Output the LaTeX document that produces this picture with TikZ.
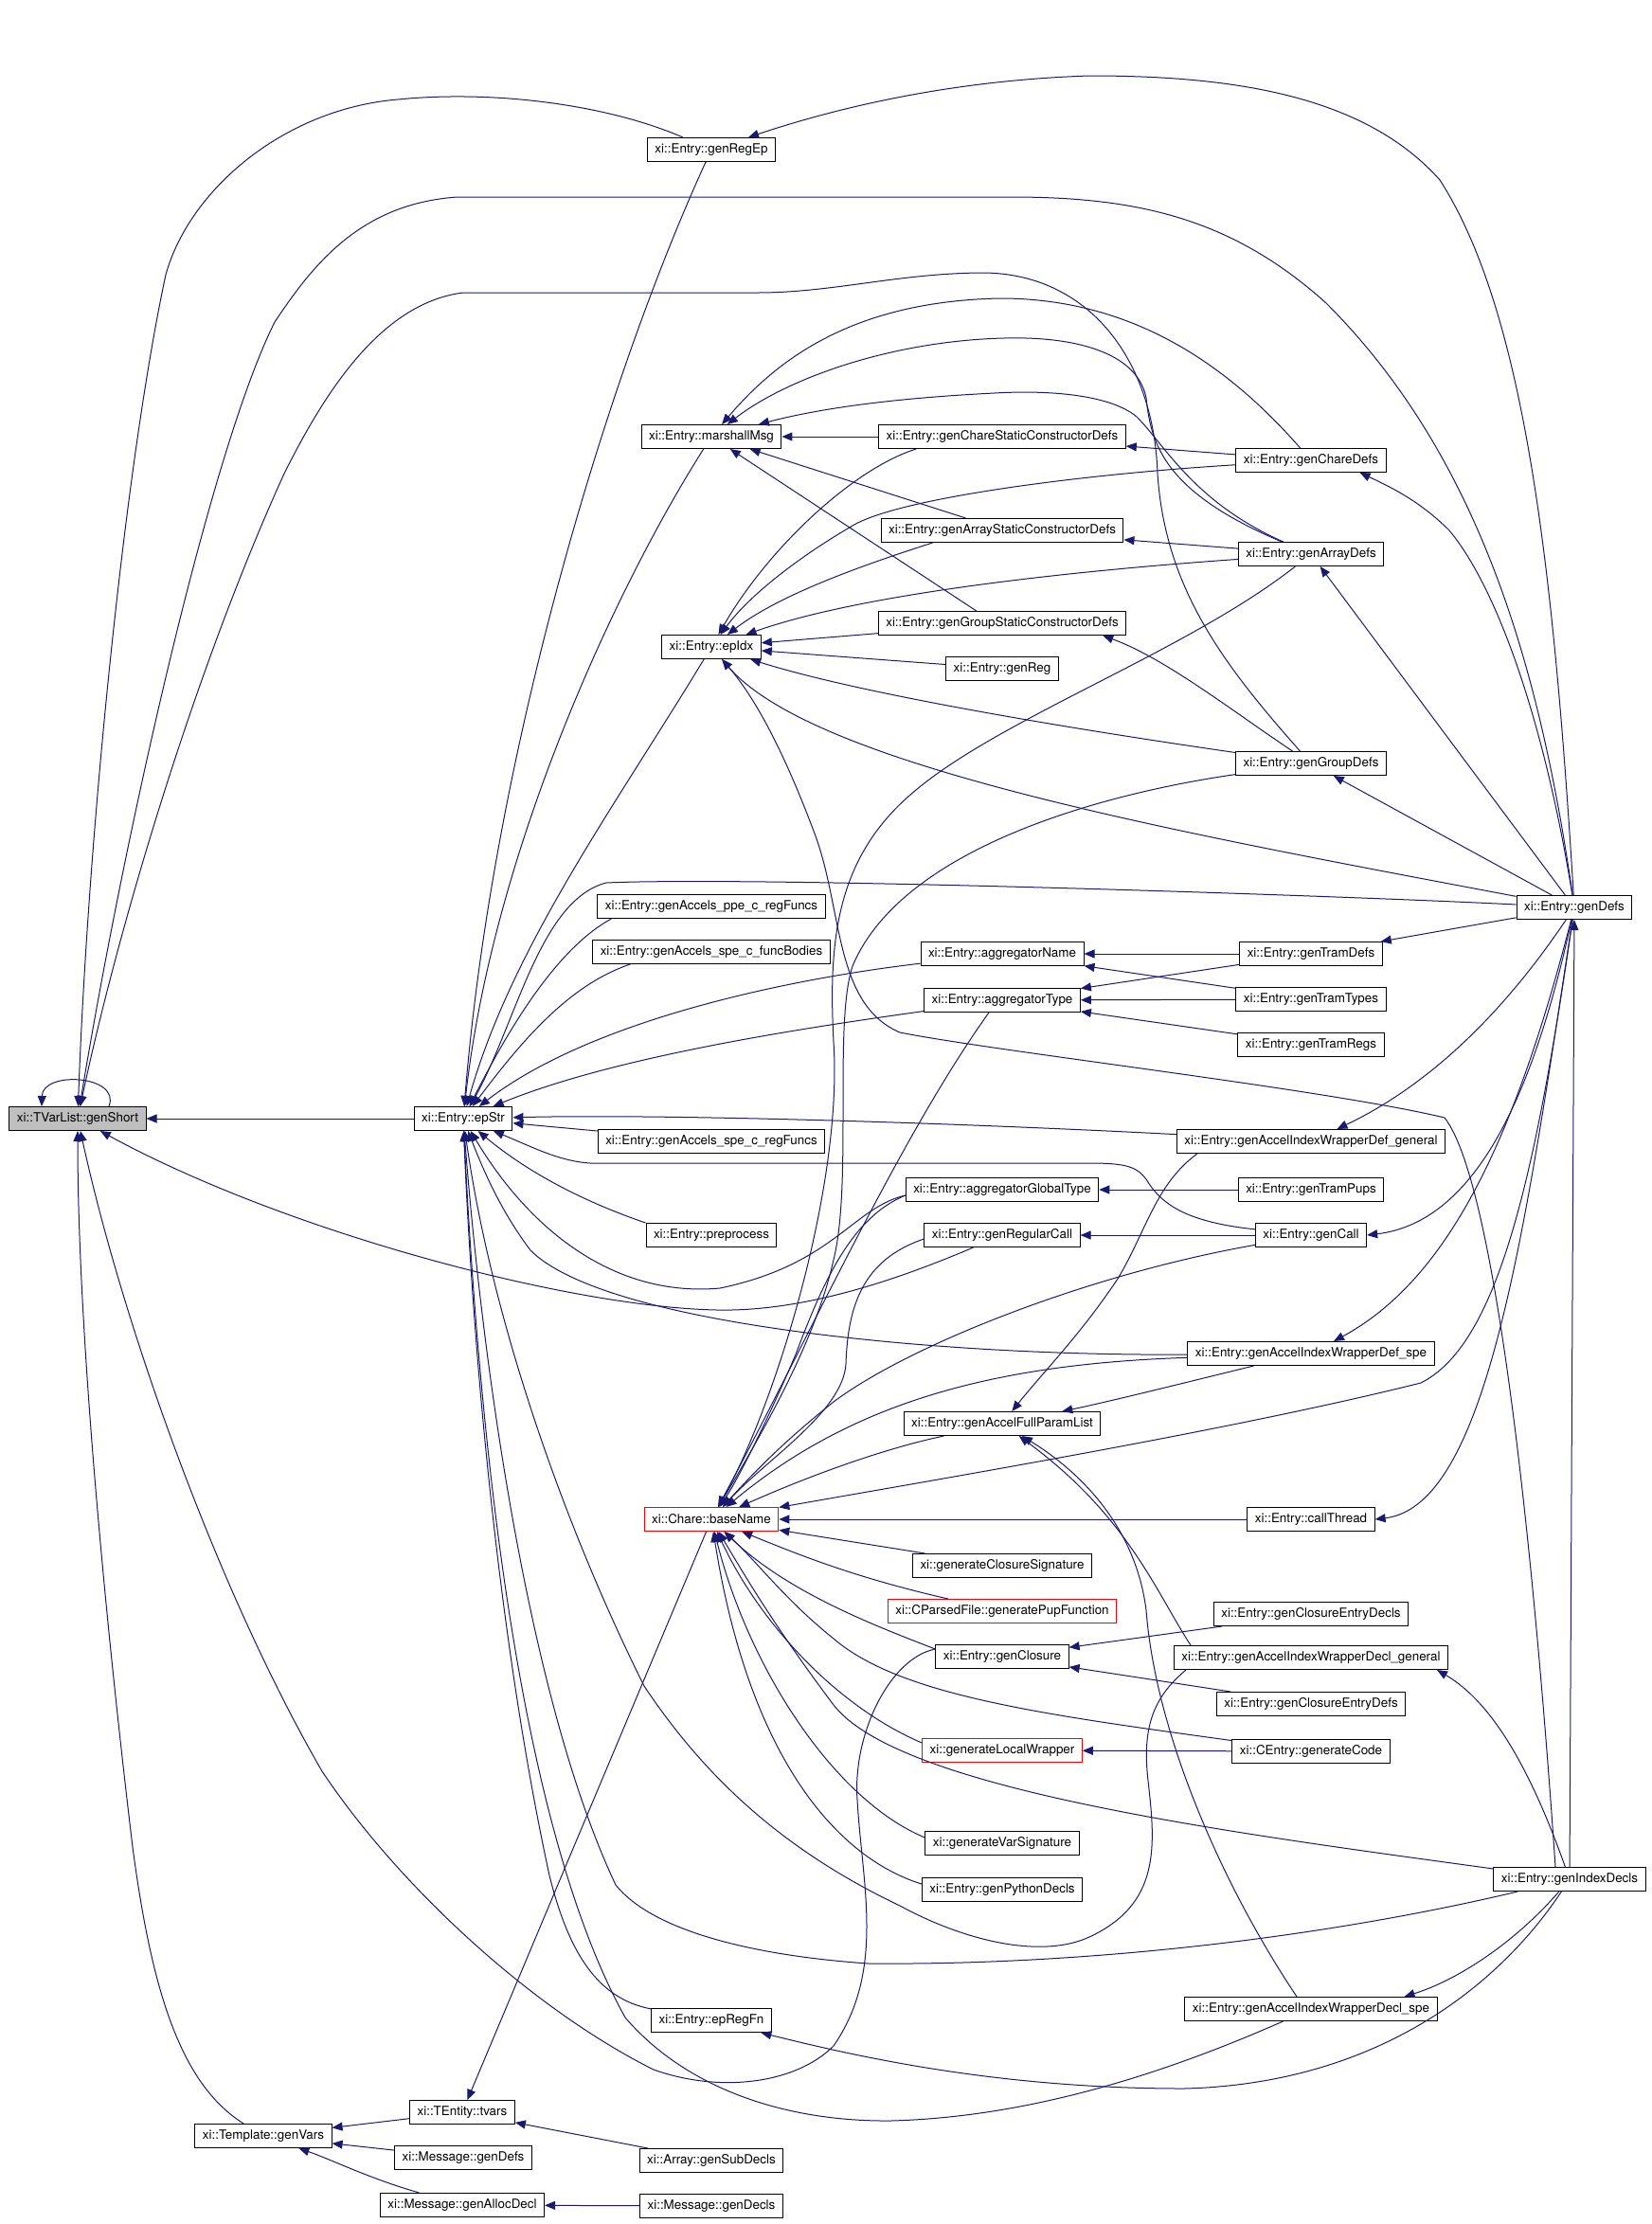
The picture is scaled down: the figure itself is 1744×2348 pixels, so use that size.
\documentclass[tikz,border=0pt]{standalone}
\usepackage{fontspec}
\setmainfont{TeX Gyre Heros}
\usetikzlibrary{arrows.meta, positioning}
\definecolor{edgeblue}{HTML}{191970}

\begin{document}
\begin{tikzpicture}[x=1pt, y=-1pt,
		fn/.style={draw=black, line width=1pt, rectangle, minimum height=25pt, inner xsep=8pt, inner ysep=0pt, font=\fontsize{13.4pt}{16pt}\selectfont},
		rootfn/.style={fn, fill=black!25},
		redfn/.style={fn, draw=red},
		>={Triangle[length=11pt, width=9pt]},
		callarrow/.style={->, color=edgeblue, line width=1pt}]
			\useasboundingbox (0,0) rectangle (1744,2348);

			\node[rootfn] (genShort) at (82,1181) {xi::TVarList::genShort};
			\node[fn] (epStr) at (489,1181) {xi::Entry::epStr};
			\node[fn] (genVars) at (278,2255) {xi::Template::genVars};
			\node[fn] (tvars) at (488,2230) {xi::TEntity::tvars};
			\node[fn] (msgGenDefs) at (489,2278) {xi::Message::genDefs};
			\node[fn] (genAllocDecl) at (488,2328) {xi::Message::genAllocDecl};

			\node[fn] (genRegEp) at (751,158) {xi::Entry::genRegEp};
			\node[fn] (marshallMsg) at (751,461) {xi::Entry::marshallMsg};
			\node[fn] (epIdx) at (751,683) {xi::Entry::epIdx};
			\node[fn] (ppeRegFuncs) at (751,957) {xi::Entry::genAccels\_ppe\_c\_regFuncs};
			\node[fn] (speFuncBodies) at (751,1005) {xi::Entry::genAccels\_spe\_c\_funcBodies};
			\node[fn] (speRegFuncs) at (751,1205) {xi::Entry::genAccels\_spe\_c\_regFuncs};
			\node[fn] (preprocess) at (751,1304) {xi::Entry::preprocess};
			\node[redfn] (baseName) at (751,1604) {xi::Chare::baseName};
			\node[fn] (epRegFn) at (751,2133) {xi::Entry::epRegFn};
			\node[fn] (genSubDecls) at (751,2281) {xi::Array::genSubDecls};
			\node[fn] (msgGenDecls) at (751,2329) {xi::Message::genDecls};

			\node[fn] (chareStatic) at (1058,461) {xi::Entry::genChareStaticConstructorDefs};
			\node[fn] (arrayStatic) at (1058,560) {xi::Entry::genArrayStaticConstructorDefs};
			\node[fn] (groupStatic) at (1058,658) {xi::Entry::genGroupStaticConstructorDefs};
			\node[fn] (genReg) at (1058,706) {xi::Entry::genReg};
			\node[fn] (aggregatorName) at (1058,1007) {xi::Entry::aggregatorName};
			\node[fn] (aggregatorType) at (1058,1056) {xi::Entry::aggregatorType};
			\node[fn] (aggregatorGlobalType) at (1058,1256) {xi::Entry::aggregatorGlobalType};
			\node[fn] (genRegularCall) at (1058,1304) {xi::Entry::genRegularCall};
			\node[fn] (fullParamList) at (1058,1503) {xi::Entry::genAccelFullParamList};
			\node[fn] (closureSignature) at (1058,1653) {xi::generateClosureSignature};
			\node[redfn] (pupFunction) at (1058,1701) {xi::CParsedFile::generatePupFunction};
			\node[fn] (genClosure) at (1058,1749) {xi::Entry::genClosure};
			\node[redfn] (localWrapper) at (1058,1848) {xi::generateLocalWrapper};
			\node[fn] (varSignature) at (1058,1946) {xi::generateVarSignature};
			\node[fn] (pythonDecls) at (1058,1995) {xi::Entry::genPythonDecls};

			\node[fn] (genChareDefs) at (1384,486) {xi::Entry::genChareDefs};
			\node[fn] (genArrayDefs) at (1384,585) {xi::Entry::genArrayDefs};
			\node[fn] (genGroupDefs) at (1384,806) {xi::Entry::genGroupDefs};
			\node[fn] (tramDefs) at (1384,1007) {xi::Entry::genTramDefs};
			\node[fn] (tramTypes) at (1384,1055) {xi::Entry::genTramTypes};
			\node[fn] (tramRegs) at (1384,1103) {xi::Entry::genTramRegs};
			\node[fn] (wrapDefGeneral) at (1384,1205) {xi::Entry::genAccelIndexWrapperDef\_general};
			\node[fn] (tramPups) at (1384,1256) {xi::Entry::genTramPups};
			\node[fn] (genCall) at (1384,1304) {xi::Entry::genCall};
			\node[fn] (wrapDefSpe) at (1384,1429) {xi::Entry::genAccelIndexWrapperDef\_spe};
			\node[fn] (callThread) at (1384,1604) {xi::Entry::callThread};
			\node[fn] (closureEntryDecls) at (1384,1704) {xi::Entry::genClosureEntryDecls};
			\node[fn] (wrapDeclGeneral) at (1384,1750) {xi::Entry::genAccelIndexWrapperDecl\_general};
			\node[fn] (closureEntryDefs) at (1384,1799) {xi::Entry::genClosureEntryDefs};
			\node[fn] (generateCode) at (1384,1849) {xi::CEntry::generateCode};
			\node[fn] (wrapDeclSpe) at (1384,2121) {xi::Entry::genAccelIndexWrapperDecl\_spe};

			\node[fn] (genDefs) at (1662,958) {xi::Entry::genDefs};
			\node[fn] (genIndexDecls) at (1657,1984) {xi::Entry::genIndexDecls};

			\draw[callarrow] ([xshift=33pt]genShort.north) .. controls (128,1135) and (45,1130) .. ([xshift=-38pt]genShort.north);
			\draw[callarrow] (epStr) -- (genShort);
			\draw[callarrow] (genRegEp) .. controls (640,110) and (520,95) .. (420,105) .. controls (300,115) and (200,200) .. (175,290) .. controls (130,500) and (92,900) .. (genShort);
			\draw[callarrow] (genDefs) .. controls (1625,700) and (1560,480) .. (1400,320) .. controls (1300,230) and (1200,208) .. (1067,208) -- (483,208) .. controls (380,215) and (330,280) .. (290,340) .. controls (220,480) and (128,900) .. (genShort);
			\draw[callarrow] (genGroupDefs) .. controls (1290,700) and (1230,620) .. (1222,500) .. controls (1218,380) and (1150,290) .. (1040,288) .. controls (950,288) and (880,309) .. (800,309) -- (489,309) .. controls (400,320) and (340,420) .. (300,500) .. controls (200,720) and (120,1000) .. (genShort);
			\draw[callarrow] (genRegularCall) .. controls (950,1350) and (850,1385) .. (757,1383) .. controls (600,1380) and (300,1300) .. (genShort);
			\draw[callarrow] (genVars) .. controls (190,2200) and (160,2100) .. (140,1950) .. controls (110,1700) and (82,1400) .. (genShort);
			\draw[callarrow] ([yshift=8pt]genClosure.west) .. controls (940,1750) and (900,1830) .. (905,1900) .. controls (910,1990) and (935,2080) .. (880,2160) .. controls (840,2200) and (760,2210) .. (690,2185) .. controls (560,2120) and (420,1990) .. (340,1870) .. controls (230,1680) and (130,1400) .. (genShort);

			\draw[callarrow] (genRegEp) .. controls (640,400) and (520,800) .. (epStr);
			\draw[callarrow] (marshallMsg) .. controls (650,620) and (520,900) .. (epStr);
			\draw[callarrow] (epIdx) .. controls (650,850) and (540,1000) .. (epStr);
			\draw[callarrow] (genDefs) .. controls (1400,945) and (800,925) .. (640,932) .. controls (570,950) and (545,1080) .. (epStr);
			\draw[callarrow] ([xshift=15pt]ppeRegFuncs.south west) .. controls (590,1000) and (540,1080) .. (epStr);
			\draw[callarrow] ([xshift=40pt]speFuncBodies.south west) .. controls (600,1040) and (550,1100) .. (epStr);
			\draw[callarrow] (aggregatorName) .. controls (820,1035) and (620,1080) .. (epStr);
			\draw[callarrow] (aggregatorType) .. controls (850,1085) and (650,1115) .. (epStr);
			\draw[callarrow] (wrapDefGeneral) .. controls (1000,1185) and (700,1176) .. (epStr);
			\draw[callarrow] (speRegFuncs) -- (epStr);
			\draw[callarrow] (genCall) .. controls (1250,1290) and (1225,1270) .. (1210,1245) .. controls (1200,1232) and (1190,1228) .. (1150,1228) -- (623,1228) .. controls (590,1226) and (560,1210) .. (epStr);
			\draw[callarrow] (preprocess.north west) .. controls (620,1270) and (560,1240) .. (epStr);
			\draw[callarrow] ([yshift=-6pt]aggregatorGlobalType.west) .. controls (900,1275) and (880,1335) .. (760,1360) .. controls (650,1370) and (560,1300) .. (epStr);
			\draw[callarrow] (wrapDefSpe) .. controls (1000,1432) and (640,1400) .. (560,1320) .. controls (530,1280) and (512,1240) .. (epStr);
			\draw[callarrow] ([xshift=13pt]wrapDeclGeneral.south west) .. controls (1220,1790) and (1205,1820) .. (1212,1880) .. controls (1220,1950) and (1225,2010) .. (1150,2045) .. controls (1100,2068) and (1020,2050) .. (950,2012) .. controls (820,1950) and (740,1870) .. (680,1780) .. controls (600,1620) and (520,1400) .. (epStr);
			\draw[callarrow] (genIndexDecls) .. controls (1400,2045) and (1150,2075) .. (917,2073) .. controls (800,2065) and (690,2040) .. (650,1990) .. controls (560,1800) and (510,1450) .. (epStr);
			\draw[callarrow] (wrapDeclSpe) .. controls (1250,2180) and (1100,2235) .. (940,2239) .. controls (820,2240) and (720,2200) .. (660,2130) .. controls (560,1950) and (510,1600) .. (epStr);
			\draw[callarrow] (epRegFn) .. controls (630,2110) and (600,2060) .. (580,1980) .. controls (530,1750) and (500,1450) .. (epStr);

			\draw[callarrow] ([xshift=40pt]chareStatic.south west) .. controls (900,495) and (810,580) .. (epIdx);
			\draw[callarrow] ([xshift=55pt]arrayStatic.south west) .. controls (900,600) and (820,630) .. (epIdx);
			\draw[callarrow] (genChareDefs) .. controls (1150,500) and (950,525) .. (900,555) .. controls (840,590) and (790,630) .. (epIdx);
			\draw[callarrow] (genArrayDefs) .. controls (1100,605) and (900,630) .. (epIdx);
			\draw[callarrow] (groupStatic) -- (epIdx);
			\draw[callarrow] (genReg) -- (epIdx);
			\draw[callarrow] (genGroupDefs) .. controls (1100,765) and (900,730) .. (epIdx);
			\draw[callarrow] (genDefs) .. controls (1250,880) and (860,810) .. (epIdx);
			\draw[callarrow] ([xshift=-15pt]genIndexDecls.north) .. controls (1620,1650) and (1580,1250) .. (1525,1180) .. controls (1400,1150) and (1050,1110) .. (950,1090) .. controls (880,1060) and (890,960) .. (860,880) .. controls (830,800) and (800,740) .. (epIdx);

			\draw[callarrow] (chareStatic) -- (marshallMsg);
			\draw[callarrow] ([xshift=90pt]arrayStatic.north west) -- (marshallMsg);
			\draw[callarrow] ([xshift=104pt]groupStatic.north west) -- (marshallMsg);
			\draw[callarrow] (genChareDefs) .. controls (1300,390) and (1200,315) .. (1056,315) .. controls (900,318) and (820,380) .. (marshallMsg);
			\draw[callarrow] (genArrayDefs) .. controls (1230,520) and (1215,470) .. (1210,420) .. controls (1200,370) and (1130,355) .. (1060,357) .. controls (940,360) and (830,400) .. (marshallMsg);
			\draw[callarrow] (genArrayDefs) .. controls (1260,530) and (1230,470) .. (1200,440) .. controls (1170,415) and (1100,412) .. (1050,415) .. controls (950,420) and (870,430) .. (marshallMsg);

			\draw[callarrow] (genChareDefs) -- (chareStatic);
			\draw[callarrow] (genArrayDefs) -- (arrayStatic);
			\draw[callarrow] (genGroupDefs) .. controls (1300,750) and (1230,695) .. ([xshift=-25pt]groupStatic.south east);

			\draw[callarrow] (genDefs) .. controls (1630,760) and (1580,620) .. (1530,560) .. controls (1500,530) and (1470,515) .. ([xshift=-28pt]genChareDefs.south east);
			\draw[callarrow] (genDefs) -- (genArrayDefs);
			\draw[callarrow] (genDefs) -- (genGroupDefs);
			\draw[callarrow] (genDefs) .. controls (1640,600) and (1610,330) .. (1520,190) .. controls (1440,100) and (1300,80) .. (1150,80) .. controls (1000,85) and (880,115) .. (genRegEp);
			\draw[callarrow] (genDefs) -- (tramDefs);

			\draw[callarrow] (tramDefs) -- (aggregatorName);
			\draw[callarrow] (tramTypes) -- (aggregatorName);
			\draw[callarrow] (tramDefs) -- (aggregatorType);
			\draw[callarrow] (tramTypes) -- (aggregatorType);
			\draw[callarrow] (tramRegs) -- (aggregatorType);
			\draw[callarrow] (tramPups) -- (aggregatorGlobalType);
			\draw[callarrow] (genCall) -- (genRegularCall);

			\draw[callarrow] (genDefs) .. controls (1620,1150) and (1560,1290) .. (genCall.east);
			\draw[callarrow] (genDefs) .. controls (1610,1300) and (1570,1590) .. (callThread.east);
			\draw[callarrow] (genDefs) .. controls (1580,1080) and (1500,1150) .. (wrapDefGeneral);
			\draw[callarrow] (genDefs) .. controls (1600,1200) and (1530,1350) .. (wrapDefSpe);
			\draw[callarrow] (genIndexDecls) -- (genDefs);

			\draw[callarrow] (genDefs) .. controls (1620,1250) and (1580,1420) .. (1500,1460) .. controls (1300,1510) and (1000,1560) .. (baseName);
			\draw[callarrow] (callThread) -- (baseName);
			\draw[callarrow] (closureSignature) -- (baseName);
			\draw[callarrow] (pupFunction) .. controls (900,1665) and (840,1640) .. (baseName);
			\draw[callarrow] ([yshift=8pt]genClosure.west) .. controls (920,1715) and (830,1680) .. (baseName);
			\draw[callarrow] (generateCode) .. controls (1100,1810) and (950,1790) .. (880,1730) .. controls (830,1690) and (800,1650) .. (baseName);
			\draw[callarrow] ([yshift=8pt]localWrapper.west) .. controls (880,1800) and (800,1710) .. (baseName);
			\draw[callarrow] ([yshift=6pt]varSignature.west) .. controls (880,1900) and (790,1760) .. (baseName);
			\draw[callarrow] ([yshift=6pt]pythonDecls.west) .. controls (880,1960) and (790,1850) .. (baseName);
			\draw[callarrow] (genIndexDecls) .. controls (1300,1935) and (950,1890) .. (880,1800) .. controls (820,1720) and (790,1670) .. (baseName);
			\draw[callarrow] (fullParamList) .. controls (930,1530) and (850,1560) .. (baseName);
			\draw[callarrow] (wrapDefSpe) .. controls (1050,1440) and (900,1480) .. (baseName);
			\draw[callarrow] (genCall) .. controls (1150,1345) and (960,1420) .. (880,1480) .. controls (830,1520) and (800,1550) .. (baseName);
			\draw[callarrow] ([yshift=-4pt]genRegularCall.west) .. controls (910,1330) and (895,1380) .. (893,1440) .. controls (890,1490) and (810,1540) .. (baseName);
			\draw[callarrow] ([yshift=-6pt]aggregatorGlobalType.west) .. controls (900,1285) and (870,1350) .. (840,1430) .. controls (810,1500) and (780,1560) .. (baseName);
			\draw[callarrow] ([xshift=-14pt]aggregatorType.south) .. controls (950,1200) and (850,1420) .. (baseName);
			\draw[callarrow] (genGroupDefs) .. controls (1150,840) and (950,900) .. (900,1020) .. controls (880,1080) and (900,1250) .. (880,1330) .. controls (860,1420) and (800,1520) .. (baseName);
			\draw[callarrow] (genArrayDefs) .. controls (1250,690) and (1050,760) .. (960,840) .. controls (880,910) and (875,1000) .. (880,1100) .. controls (890,1250) and (820,1480) .. (baseName);

			\draw[callarrow] ([xshift=22pt]wrapDefGeneral.south west) .. controls (1220,1250) and (1210,1300) .. (1180,1350) .. controls (1140,1410) and (1100,1450) .. (fullParamList);
			\draw[callarrow] ([xshift=70pt]wrapDefSpe.south west) .. controls (1250,1460) and (1170,1480) .. (fullParamList);
			\draw[callarrow] ([xshift=18pt]wrapDeclGeneral.north west) .. controls (1220,1680) and (1190,1600) .. (fullParamList);
			\draw[callarrow] ([xshift=-15pt]wrapDeclSpe.north) .. controls (1290,1990) and (1220,1830) .. (1210,1700) .. controls (1200,1620) and (1150,1560) .. (fullParamList);

			\draw[callarrow] (genIndexDecls) .. controls (1620,1880) and (1580,1800) .. ([xshift=-12pt]wrapDeclGeneral.south east);
			\draw[callarrow] (genIndexDecls) .. controls (1600,2050) and (1540,2090) .. ([xshift=-35pt]wrapDeclSpe.north east);
			\draw[callarrow] (genIndexDecls) .. controls (1580,2100) and (1450,2200) .. (1250,2205) .. controls (1050,2205) and (900,2170) .. (epRegFn);

			\draw[callarrow] (closureEntryDecls) -- (genClosure);
			\draw[callarrow] (closureEntryDefs) -- (genClosure);
			\draw[callarrow] (generateCode) -- (localWrapper);

			\draw[callarrow] (baseName) -- (tvars);
			\draw[callarrow] (tvars) -- (genVars);
			\draw[callarrow] (msgGenDefs) -- (genVars);
			\draw[callarrow] (genAllocDecl) .. controls (390,2300) and (350,2280) .. (genVars);
			\draw[callarrow] (genSubDecls) -- (tvars);
			\draw[callarrow] (msgGenDecls) -- (genAllocDecl);
\end{tikzpicture}
\end{document}
